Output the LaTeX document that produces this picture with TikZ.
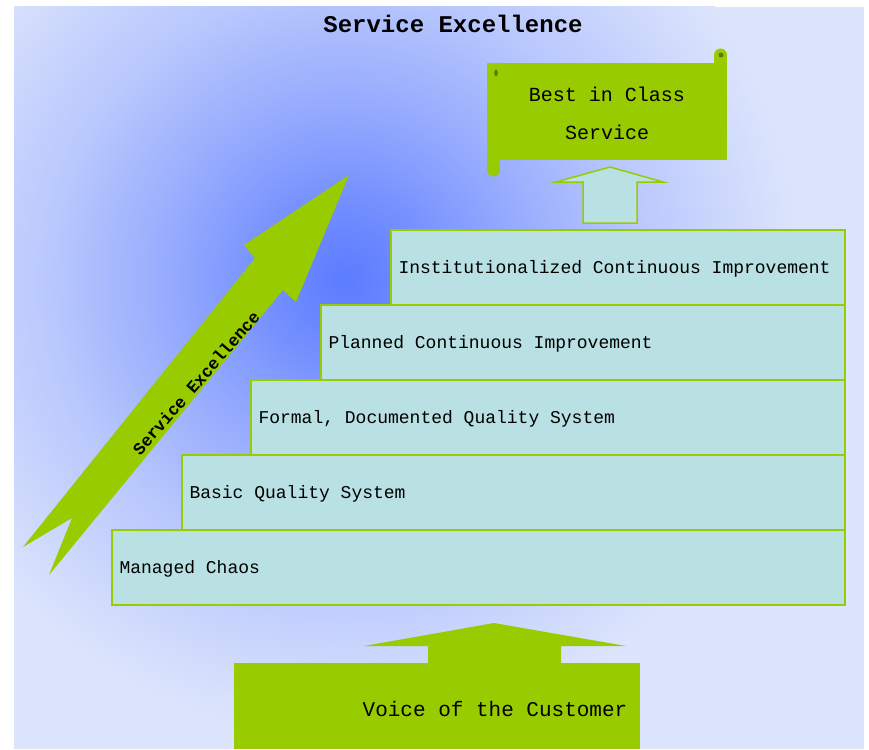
\documentclass[tikz,border=0pt]{standalone}
\usepackage{fontspec}
\setmonofont{Liberation Mono}
\usetikzlibrary{positioning}

\definecolor{panel}{HTML}{DDE5FC}
\definecolor{glow}{HTML}{5C7CFF}
\definecolor{leaf}{HTML}{99CC00}
\definecolor{stepfill}{HTML}{B9E0E3}

\pgfdeclareradialshading{bgglow}{\pgfpoint{0bp}{0bp}}{%
  color(0bp)=(glow); color(3bp)=(glow!88!panel); color(9bp)=(glow!58!panel);
  color(16bp)=(glow!28!panel); color(25bp)=(panel); color(50bp)=(panel)}

\tikzset{
  stepbox/.style={draw=leaf,line width=2pt,fill=stepfill},
  steptext/.style={anchor=west,font=\ttfamily\fontsize{18}{20}\selectfont},
  greenshape/.style={fill=leaf,draw=none},
}

\begin{document}
\begin{tikzpicture}[x=1pt,y=-1pt]
\useasboundingbox (0,0) rectangle (869,749);

% background
\begin{scope}
\clip (14,7) rectangle (864,749);
\fill[panel] (14,7) rectangle (864,749);
\shade[shading=bgglow] (345,280) circle (460);
\end{scope}

\node[font=\ttfamily\bfseries\fontsize{24}{26}\selectfont] (title) at (453,24) {Service Excellence};

% steps
\draw[stepbox] (112,530) rectangle (845,605);
\draw[stepbox] (182,455) rectangle (845,530);
\draw[stepbox] (251,380) rectangle (845,455);
\draw[stepbox] (321,305) rectangle (845,380);
\draw[stepbox] (391,230) rectangle (845,305);

\node[steptext] (chaos) at (116,569) {Managed Chaos};
\node[steptext] (basic) at (186,494) {Basic Quality System};
\node[steptext] (formal) at (255,419) {Formal, Documented Quality System};
\node[steptext] (planned) at (325,344) {Planned Continuous Improvement};
\node[steptext] (inst) at (395,269) {Institutionalized Continuous Improvement};

% small arrow up to the scroll
\draw[draw=leaf,line width=1.5pt,fill=stepfill]
  (583,223) -- (583,182) -- (556,182) -- (610,167) -- (663,182)
  -- (637,182) -- (637,223) -- cycle;

% scroll
\fill[leaf] (487,63) rectangle (727,160);
\fill[leaf] (487,160) rectangle (500,170);
\fill[leaf] (493.5,170) circle (6.5);
\fill[leaf] (714,55) rectangle (727,63);
\fill[leaf] (720.5,55) circle (6.5);
\fill[leaf!60!black] (721,55) circle (2.5);
\fill[leaf!60!black] (496,73) ellipse (1.8 and 3.5);
\node[font=\ttfamily\fontsize{20}{38}\selectfont,align=center] (best) at (607,113)
  {Best in Class\\Service};

% big diagonal arrow
\fill[leaf] (23,547) -- (255,258) -- (244,245) -- (349,175) -- (296,302)
  -- (283,290) -- (49,575) -- (72,518) -- cycle;
\node[font=\ttfamily\bfseries\fontsize{17}{19}\selectfont,rotate=49] (slope) at (196,383)
  {Service Excellence};

% voice of the customer
\fill[leaf] (234,663) rectangle (640,749);
\fill[leaf] (428,664) -- (428,646) -- (364,646) -- (494,623) -- (626,646)
  -- (561,646) -- (561,664) -- cycle;
\node[font=\ttfamily\fontsize{21}{23}\selectfont] (voice) at (495,709) {Voice of the Customer};

\end{tikzpicture}
\end{document}
